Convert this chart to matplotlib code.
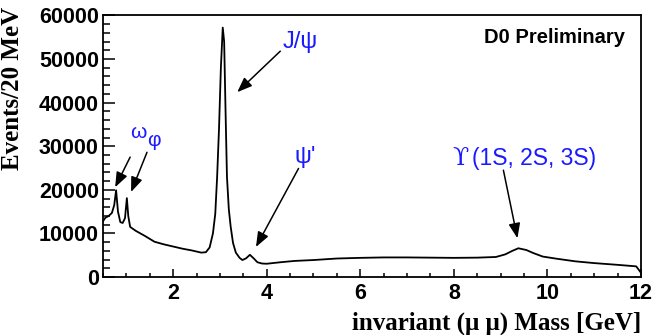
#!/usr/bin/env python3
# -*- coding: utf-8 -*-
"""
Dimuon invariant mass spectrum, D0 preliminary style plot
"""
import numpy as np
import matplotlib.pyplot as plt
from matplotlib.ticker import MultipleLocator

mass = [0.50, 0.55, 0.62, 0.69, 0.74, 0.78, 0.82, 0.87, 0.92, 0.97, 1.01, 1.04, 1.08,
        1.20, 1.40, 1.60, 1.80, 2.00, 2.20, 2.40, 2.60, 2.70, 2.78, 2.85, 2.90, 2.94,
        2.98, 3.02, 3.06, 3.09, 3.12, 3.15, 3.19, 3.23, 3.28, 3.34, 3.42, 3.48, 3.56,
        3.64, 3.72, 3.80, 3.90, 4.00, 4.30, 4.60, 5.00, 5.50, 6.00, 6.50, 7.00, 7.50,
        8.00, 8.50, 8.90, 9.10, 9.25, 9.38, 9.55, 9.70, 9.90, 10.20, 10.60, 11.00,
        11.50, 11.90, 12.00]
events = [12800, 13600, 14000, 14700, 16500, 19900, 15000, 12600, 12400, 13500, 18100,
          14000, 11500, 10600, 9400, 8100, 7500, 7000, 6500, 6100, 5600, 5700, 6800,
          10000, 14500, 23000, 34000, 48000, 57200, 54000, 38000, 23000, 15500, 11500,
          7800, 5600, 4400, 3900, 4300, 5100, 4300, 3400, 3100, 3050, 3400, 3700, 3900,
          4250, 4400, 4500, 4500, 4450, 4400, 4450, 4600, 5200, 6000, 6600, 6200, 5500,
          4700, 4200, 3600, 3200, 2800, 2450, 1000]

labels = ["\u03c9", "\u03c6", "J/\u03c8", "\u03c8'", "(1S, 2S, 3S)"]

fig = plt.figure(figsize=(6.54, 3.35), dpi=100)
ax = fig.add_axes([0.1575, 0.173, 0.8225, 0.781])

ax.plot(mass, events, color='black', lw=1.3)

ax.set_xlim(0.5, 12)
ax.set_ylim(0, 60000)
ax.xaxis.set_major_locator(MultipleLocator(2))
ax.xaxis.set_minor_locator(MultipleLocator(0.5))
ax.yaxis.set_major_locator(MultipleLocator(10000))
ax.yaxis.set_minor_locator(MultipleLocator(2000))
ax.tick_params(axis='y', which='major', direction='in', length=8.5, width=1.1, pad=3)
ax.tick_params(axis='y', which='minor', direction='in', length=5, width=1.1)
ax.tick_params(axis='x', which='major', direction='in', length=5.5, width=1.1, pad=4)
ax.tick_params(axis='x', which='minor', direction='in', length=2.8, width=1.1)
for lab in ax.get_xticklabels() + ax.get_yticklabels():
    lab.set_fontfamily('Liberation Sans')
    lab.set_fontweight('bold')
    lab.set_fontsize(15.5)
for sp in ax.spines.values():
    sp.set_linewidth(1.3)

fig.text(0.980, 0.0, "invariant (\u03bc \u03bc) Mass [GeV]", ha='right', va='bottom',
         fontfamily='Liberation Serif', fontweight='bold', fontsize=18)
fig.text(0.002, 0.979, "Events/20 MeV", ha='left', va='top', rotation=90,
         fontfamily='Liberation Serif', fontweight='bold', fontsize=18)

ax.text(0.970, 0.916, "D0 Preliminary", transform=ax.transAxes, ha='right', va='center',
        fontfamily='Liberation Sans', fontweight='bold', fontsize=14.5)

blue = '#1a1aff'
fam = ['Liberation Sans', 'DejaVu Sans']
ax.text(1.25, 33200, labels[0], color=blue, fontsize=15, family=fam, ha='center', va='center')
ax.text(1.58, 31300, labels[1], color=blue, fontsize=15, family=fam, ha='center', va='center')
ax.text(4.71, 53800, labels[2], color=blue, fontsize=17, family=fam, ha='center', va='center')
ax.text(4.82, 27600, labels[3], color=blue, fontsize=17, family=fam, ha='center', va='center')
ax.text(7.97, 27250, "\u03d2", color=blue, fontsize=17, family='DejaVu Serif',
        ha='left', va='center')
ax.text(8.38, 27250, labels[4], color=blue, fontsize=16.5, family=fam, ha='left', va='center')

arrows = [((1.08, 27500), (0.76, 20600)),
          ((1.44, 28600), (1.10, 19500)),
          ((4.29, 51800), (3.37, 42400)),
          ((4.68, 24900), (3.77, 6900)),
          ((9.06, 24500), (9.36, 8900))]
for tail, tip in arrows:
    ax.annotate("", xy=tip, xytext=tail,
                arrowprops=dict(arrowstyle='-|>,head_length=0.9,head_width=0.35',
                                color='black', lw=1.1, shrinkA=0, shrinkB=0))

plt.savefig("out.png", dpi=100)
plt.close()
